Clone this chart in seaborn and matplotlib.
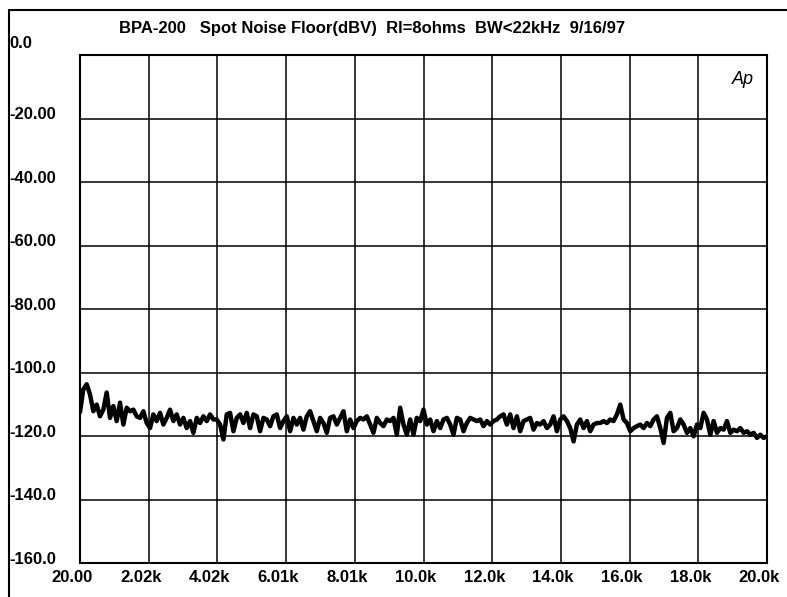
import numpy as np
import pandas as pd
import matplotlib
matplotlib.use("Agg")
import matplotlib.pyplot as plt
import matplotlib.transforms as mtransforms
from matplotlib.lines import Line2D
import seaborn as sns

# ---------------- data ----------------
title = "BPA-200   Spot Noise Floor(dBV)  Rl=8ohms  BW<22kHz  9/16/97"
x_ticks = [20, 2018, 4016, 6014, 8012, 10010, 12008, 14006, 16004, 18002, 20000]
x_tick_labels = ["20.00", "2.02k", "4.02k", "6.01k", "8.01k", "10.0k",
                 "12.0k", "14.0k", "16.0k", "18.0k", "20.0k"]
y_ticks = [0, -20, -40, -60, -80, -100, -120, -140, -160]
y_tick_labels = ["0.0", "-20.00", "-40.00", "-60.00", "-80.00",
                 "-100.0", "-120.0", "-140.0", "-160.0"]

noise_dbv = [
    # 20 Hz .. ~3.9 kHz
    -112.5, -105.3, -103.7, -106.9, -112.2, -110.1, -113.8, -111.7, -106.3, -114.3,
    -110.6, -115.3, -109.5, -116.4, -111.1, -112.2, -111.7, -113.8, -114.3, -112.2,
    -115.9, -117.5, -113.2, -115.3, -112.7, -116.4, -114.3, -111.7, -115.3, -113.2,
    -116.4, -114.3, -117.5, -115.3, -119.0, -114.3, -115.9, -113.8, -115.3, -113.2,
    -114.8,
    # ~4 kHz .. ~7.9 kHz
    -114.8, -116.4, -121.1, -113.2, -112.7, -118.5, -114.3, -113.2, -115.9, -112.7,
    -117.5, -113.2, -113.8, -118.5, -114.3, -114.8, -116.9, -113.8, -113.2, -117.5,
    -115.3, -113.8, -118.5, -114.3, -116.4, -114.3, -118.0, -113.8, -112.2, -115.3,
    -118.5, -114.3, -115.9, -119.0, -114.3, -113.8, -116.4, -114.3, -112.2, -118.5,
    -114.8, -117.5,
    # ~8 kHz .. ~11.8 kHz
    -115.3, -114.3, -114.8, -113.8, -116.4, -119.0, -114.3, -115.9, -116.9, -114.8,
    -115.3, -114.3, -119.6, -111.1, -116.4, -119.6, -114.8, -119.6, -114.3, -115.3,
    -111.7, -116.4, -114.8, -118.5, -115.3, -117.5, -114.8, -114.3, -116.4, -119.6,
    -114.3, -114.8, -118.5, -115.9, -114.3, -114.8, -115.3, -114.8, -116.9, -115.3,
    -116.4,
    # ~11.9 kHz .. ~15.9 kHz
    -115.3, -114.8, -113.8, -113.2, -116.4, -113.2, -117.5, -113.8, -118.5, -115.3,
    -114.8, -114.3, -118.0, -115.9, -116.4, -115.3, -117.5, -116.4, -113.8, -118.5,
    -114.8, -113.8, -115.3, -117.5, -121.7, -116.4, -114.8, -117.5, -115.3, -118.5,
    -116.4, -115.9, -115.9, -115.3, -115.9, -114.8, -115.3, -113.2, -110.1, -114.8,
    -115.9, -118.5,
    # ~16 kHz .. 20 kHz
    -117.5, -116.9, -116.4, -117.5, -115.9, -116.9, -114.8, -113.8, -117.5, -122.2,
    -114.3, -112.7, -118.5, -117.5, -114.8, -116.4, -119.0, -117.5, -120.1, -116.4,
    -117.5, -112.7, -114.8, -119.6, -115.3, -119.0, -117.5, -118.0, -115.3, -119.0,
    -118.0, -118.5, -117.5, -119.0, -118.5, -119.6, -119.0, -120.6, -119.6, -120.6,
    -120.1,
]
# linear sweep steps of the analyzer, 20 Hz .. 20 kHz
freq_hz = np.linspace(20, 20000, len(noise_dbv))

df = pd.DataFrame({"freq": freq_hz, "dbv": noise_dbv})

# ---------------- style ----------------
sns.set_theme(style="white")
plt.rcParams["font.family"] = ["Liberation Sans", "DejaVu Sans"]

W, H = 787, 597
fig = plt.figure(figsize=(W / 100, H / 100), dpi=100)
ax = fig.add_axes([80 / W, 1 - 563 / H, (767 - 80) / W, (563 - 55) / H])

sns.lineplot(data=df, x="freq", y="dbv", ax=ax, color="black",
             linewidth=3.2, solid_joinstyle="round", solid_capstyle="round")

ax.set_xlim(20, 20000)
ax.set_ylim(-160, 0)
ax.set_xticks(x_ticks)
ax.set_yticks(y_ticks)
ax.set_xticklabels([])
ax.set_yticklabels([])
ax.tick_params(length=0)
ax.grid(True, color="black", linewidth=1.1)
ax.set_axisbelow(True)
ax.set_xlabel("")
ax.set_ylabel("")
for s in ax.spines.values():
    s.set_color("black")
    s.set_linewidth(1.5)

# y labels (left aligned near page frame, slightly above gridline)
ytrans = mtransforms.blended_transform_factory(fig.transFigure, ax.transData)
for i, (v, lab) in enumerate(zip(y_ticks, y_tick_labels)):
    dy = 12 if i == 0 else 4
    t = mtransforms.offset_copy(ytrans, fig=fig, x=0, y=dy * 0.72, units="points")
    ax.text(9 / W, v, lab, transform=t, ha="left", va="center",
            fontsize=12, fontweight="bold", color="black", clip_on=False)

# x labels (below axes, slightly left of gridline)
xtrans = mtransforms.blended_transform_factory(ax.transData, fig.transFigure)
xt = mtransforms.offset_copy(xtrans, fig=fig, x=-8 * 0.72, y=0, units="points")
for v, lab in zip(x_ticks, x_tick_labels):
    ax.text(v, 1 - 578 / H, lab, transform=xt, ha="center", va="center",
            fontsize=12, fontweight="bold", color="black", clip_on=False)

# title
fig.text(372 / W, 1 - 28 / H, title, ha="center", va="center",
         fontsize=12, fontweight="bold", color="black")

# Ap logo
ax.text(743 / W, 1 - 80 / H, "Ap", transform=fig.transFigure, ha="center",
        va="center", fontsize=13, fontstyle="italic", color="black")

# page frame lines
fig.add_artist(Line2D([9 / W, 1], [1 - 10 / H, 1 - 10 / H],
                      transform=fig.transFigure, color="black", linewidth=1.5))
fig.add_artist(Line2D([9 / W, 9 / W], [0, 1 - 10 / H],
                      transform=fig.transFigure, color="black", linewidth=1.5))

fig.savefig("out.png", dpi=100)
